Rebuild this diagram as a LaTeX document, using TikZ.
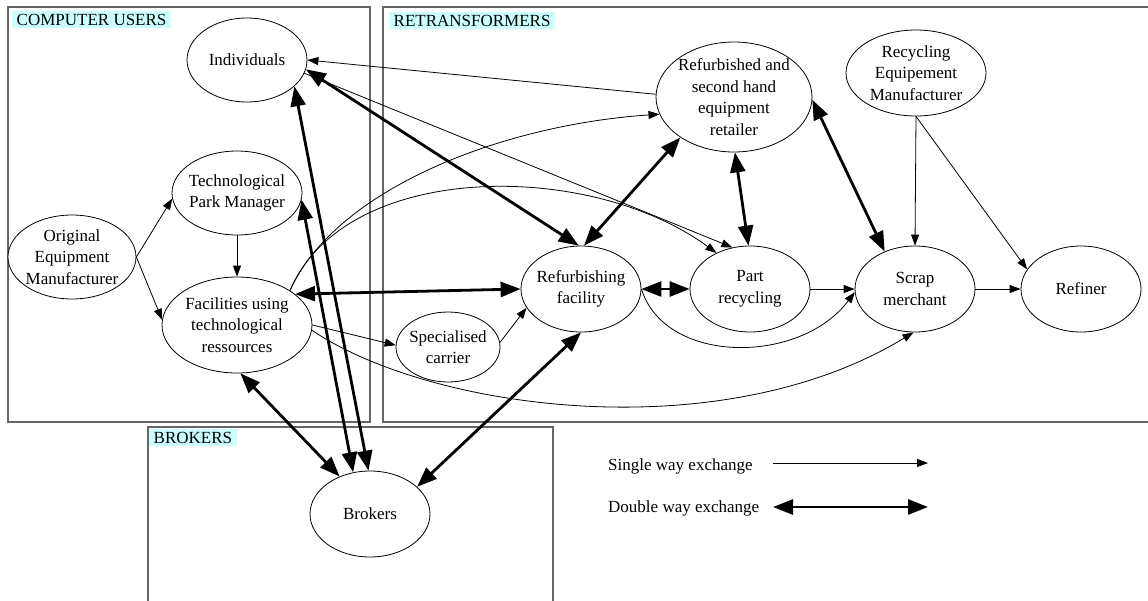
\documentclass[tikz,border=0pt]{standalone}
\usepackage{fontspec}
\setmainfont{Liberation Serif}
\usetikzlibrary{arrows.meta,shapes.geometric}
\definecolor{lcyan}{RGB}{204,255,255}
\tikzset{
  ell/.style={draw, ellipse, inner sep=0pt, line width=0.8pt, fill=white},
  etxt/.style={align=center, inner sep=0pt, font=\fontsize{17}{21.5}\selectfont},
  cluster/.style={draw=black!60, line width=1.2pt},
  clabel/.style={anchor=north west, fill=lcyan, inner xsep=4.5pt, inner ysep=2.5pt, text height=12pt, text depth=0pt, font=\fontsize{17}{21.5}\selectfont},
  one/.style={line width=0.8pt, -{Triangle[length=11pt,width=8pt]}},
  two/.style={line width=2.8pt, {Triangle[length=20pt,width=15pt]}-{Triangle[length=20pt,width=15pt]}},
  legtxt/.style={anchor=west, inner sep=0pt, font=\fontsize{17}{21.5}\selectfont}
}
\newcommand\ellnode[5]{%
  \node[ell, minimum width=#3pt, minimum height=#4pt] (#1) at (#2) {};
  \node[etxt] at (#1) {#5};}
\begin{document}
\begin{tikzpicture}[x=1pt, y=-1pt]
\useasboundingbox (0,0) rectangle (1148,600);
\clip (0,0) rectangle (1148,600);
% clusters
\draw[cluster] (8,7) rectangle (370,422);
\draw[cluster] (383,7) rectangle (1160,422);
\draw[cluster] (148,427) rectangle (553,610);
\node[clabel] (lcu) at (12,11) {COMPUTER USERS};
\node[clabel] (lrt) at (389,12) {RETRANSFORMERS};
\node[clabel] (lbr) at (149,429) {BROKERS};
% nodes
\ellnode{ind}{247,60}{120}{84}{Individuals}
\ellnode{tpm}{237,193}{130}{84}{Technological\\Park Manager}
\ellnode{oem}{72,257}{128}{84}{Original\\Equipment\\Manufacturer}
\ellnode{fac}{237,325}{150}{96}{Facilities using\\technological\\ressources}
\ellnode{ret}{734,97}{156}{110}{Refurbished and\\second hand\\equipment\\retailer}
\ellnode{rem}{916,73}{140}{86}{Recycling\\Equipement\\Manufacturer}
\ellnode{rf}{581,289}{120}{86}{Refurbishing\\facility}
\ellnode{pr}{750,289}{120}{86}{Part\\recycling}
\ellnode{sc}{448,347}{104}{70}{Specialised\\carrier}
\ellnode{sm}{915,289}{120}{86}{Scrap\\merchant}
\ellnode{refi}{1081,289}{120}{86}{Refiner}
\ellnode{brk}{370,514}{120}{86}{Brokers}
% single way
\draw[one] (oem.east) -- (tpm.185);
\draw[one] (oem.east) -- (fac.176);
\draw[one] (tpm.south) -- (fac.north);
\draw[one] (ret.178) -- (ind.east);
\draw[one] (ind.-13) -- (pr.113);
\draw[one] (fac.33) .. controls (335,190) and (500,125) .. (ret.193);
\draw[one] (fac.33) .. controls (345,160) and (590,160) .. (pr.133);
\draw[one] (fac.east) -- (sc.178);
\draw[one] (sc.5) -- (rf.199);
\draw[one] (fac.-4) .. controls (430,410) and (720,450) .. (sm.-92);
\draw[one] (rf.east) .. controls (665,365) and (800,365) .. (sm.183);
\draw[one] (pr.east) -- (sm.west);
\draw[one] (sm.east) -- (refi.west);
\draw[one] (rem.south) -- (sm.north);
\draw[one] (rem.south) -- (refi.160);
% double way
\draw[two] (ind.-9) -- (rf.93);
\draw[two] (ind.-29) -- (brk.92);
\draw[two] (tpm.-6) -- (brk.112);
\draw[two] (fac.-86) -- (brk.129);
\draw[two] (fac.28) -- (rf.west);
\draw[two] (rf.east) -- (pr.west);
\draw[two] (rf.86) -- (ret.217);
\draw[two] (ret.-89) -- (pr.92);
\draw[two] (ret.-2) -- (sm.129);
\draw[two] (rf.south) -- (brk.30);
% legend
\node[legtxt] (lg1) at (608,466) {Single way exchange};
\node[legtxt] (lg2) at (608,508) {Double way exchange};
\coordinate (a1) at (773,463);
\coordinate (b1) at (928,463);
\coordinate (a2) at (773,507);
\coordinate (b2) at (928,507);
\draw[one] (a1) -- (b1);
\draw[two] (a2) -- (b2);
\end{tikzpicture}
\end{document}
